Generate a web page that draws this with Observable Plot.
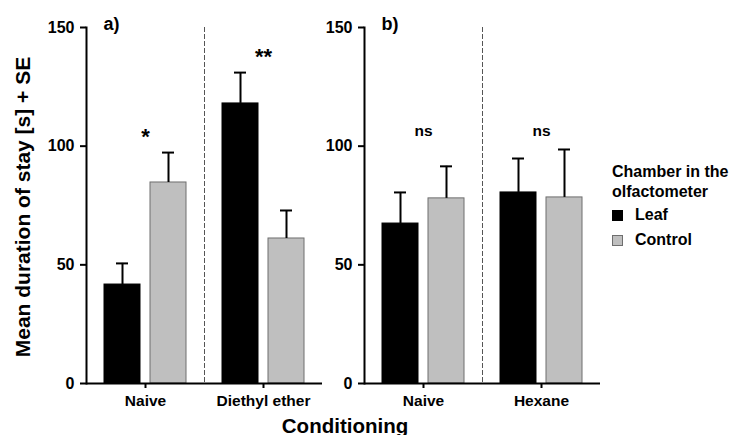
<!DOCTYPE html>
<html>
<head>
<meta charset="utf-8">
<script src="https://cdn.jsdelivr.net/npm/d3@7"></script>
<script src="https://cdn.jsdelivr.net/npm/@observablehq/plot@0.6"></script>
<style>
  body { margin: 0; background: #fff; font-family: "Liberation Sans", Arial, sans-serif; }
  #wrap { position: relative; width: 729px; height: 435px; overflow: hidden; background: #fff; }
  .panel { position: absolute; top: 0; }
  .ytitle { position: absolute; left: 22px; top: 207px; transform: translate(-50%, -50%) rotate(-90deg);
            white-space: nowrap; font-weight: bold; font-size: 21px; line-height: 21px; }
  .xtitle { position: absolute; left: 345px; top: 415.5px; transform: translateX(-50%);
            white-space: nowrap; font-weight: bold; font-size: 20.5px; line-height: 20.5px; }
  .legend { position: absolute; left: 612px; top: 161.5px; font-weight: bold; font-size: 16px; }
  .legend .title { line-height: 20px; white-space: nowrap; }
  .legend .item { position: relative; height: 25px; line-height: 25px; padding-left: 23px; white-space: nowrap; }
  .legend .sw { position: absolute; left: 0; top: 8px; width: 9px; height: 9px; border: 1px solid; }
</style>
</head>
<body>
<div id="wrap"></div>
<script>
// ---- data ----
const chambers = ["Leaf", "Control"];
const chamberFill = ["#000000", "#bfbfbf"];
const chamberStroke = ["#000000", "#6e6e6e"];

const conditionsA = ["Naive", "Diethyl ether"];
const leafMeanA = [41.7, 118.0];
const leafSEA = [8.9, 13.0];
const controlMeanA = [84.7, 61.1];
const controlSEA = [12.6, 11.8];
const sigA = ["*", "**"];
const sigYA = [104, 137.5];

const conditionsB = ["Naive", "Hexane"];
const leafMeanB = [67.4, 80.5];
const leafSEB = [13.1, 14.3];
const controlMeanB = [78.0, 78.4];
const controlSEB = [13.5, 20.2];
const sigB = ["ns", "ns"];
const sigYB = [106.4, 106.4];

const yTicks = [0, 50, 100, 150];
const panelLabels = ["a)", "b)"];

// ---- chart ----
function panel(label, conds, leafMean, leafSE, ctrlMean, ctrlSE, sig, sigY, sigSize) {
  const rows = [];
  conds.forEach((c, i) => {
    rows.push({cond: c, chamber: chambers[0], mean: leafMean[i], se: leafSE[i]});
    rows.push({cond: c, chamber: chambers[1], mean: ctrlMean[i], se: ctrlSE[i]});
  });
  const ann = conds.map((c, i) => ({cond: c, text: sig[i], y: sigY[i]}));
  return Plot.plot({
    width: 330, height: 435,
    marginLeft: 85, marginRight: 8, marginTop: 27, marginBottom: 52,
    style: {fontFamily: "'Liberation Sans', Arial, sans-serif", fontWeight: "bold", fontSize: "15.5px",
            color: "#000", background: "transparent", overflow: "visible"},
    fx: {domain: conds, padding: 0, label: null},
    x: {domain: chambers, paddingInner: 0.21, paddingOuter: 0.38, axis: null},
    y: {domain: [0, 150]},
    marks: [
      Plot.frame({anchor: "left", facetAnchor: "right", stroke: "#555", strokeWidth: 1, strokeDasharray: "4,3"}),
      Plot.barY(rows, {filter: d => d.chamber === chambers[0], fx: "cond", x: "chamber", y: "mean",
                       fill: chamberFill[0], stroke: chamberStroke[0], strokeWidth: 1}),
      Plot.barY(rows, {filter: d => d.chamber === chambers[1], fx: "cond", x: "chamber", y: "mean",
                       fill: chamberFill[1], stroke: chamberStroke[1], strokeWidth: 1}),
      Plot.ruleX(rows, {fx: "cond", x: "chamber", y1: "mean", y2: d => d.mean + d.se, strokeWidth: 2}),
      Plot.tickY(rows, {fx: "cond", x: "chamber", y: d => d.mean + d.se, strokeWidth: 2, insetLeft: 12, insetRight: 12}),
      Plot.ruleY([0], {strokeWidth: 2}),
      Plot.frame({anchor: "left", facetAnchor: "left", strokeWidth: 2}),
      Plot.axisY({ticks: yTicks, tickSize: 6, tickPadding: 6, strokeWidth: 2, label: null,
                  tickFormat: d => d, fontSize: 16, fontWeight: "bold"}),
      Plot.axisFx({anchor: "bottom", tickSize: 5, tickPadding: 6, strokeWidth: 2, label: null,
                   fontSize: 15.5, fontWeight: "bold"}),
      Plot.text(ann, {fx: "cond", y: "y", text: "text", fontSize: sigSize, fontWeight: "bold"}),
      Plot.text([label], {text: d => d, frameAnchor: "top-left", facetAnchor: "left", dx: 17, dy: -10,
                          fontSize: 18, fontWeight: "bold"})
    ]
  });
}

const wrap = document.getElementById("wrap");
const pa = panel(panelLabels[0], conditionsA, leafMeanA, leafSEA, controlMeanA, controlSEA, sigA, sigYA, 22);
pa.classList.add("panel"); pa.style.left = "0px";
const pb = panel(panelLabels[1], conditionsB, leafMeanB, leafSEB, controlMeanB, controlSEB, sigB, sigYB, 15.5);
pb.classList.add("panel"); pb.style.left = "278px";
wrap.appendChild(pa);
wrap.appendChild(pb);

const yt = document.createElement("div");
yt.className = "ytitle"; yt.textContent = "Mean duration of stay [s] + SE";
wrap.appendChild(yt);
const xt = document.createElement("div");
xt.className = "xtitle"; xt.textContent = "Conditioning";
wrap.appendChild(xt);

const lg = document.createElement("div");
lg.className = "legend";
lg.innerHTML = '<div class="title">Chamber in the<br>olfactometer</div>';
chambers.forEach((c, i) => {
  const it = document.createElement("div");
  it.className = "item";
  const sw = document.createElement("span");
  sw.className = "sw";
  sw.style.background = chamberFill[i];
  sw.style.borderColor = chamberStroke[i];
  it.appendChild(sw);
  it.appendChild(document.createTextNode(c));
  lg.appendChild(it);
});
wrap.appendChild(lg);
</script>
</body>
</html>
